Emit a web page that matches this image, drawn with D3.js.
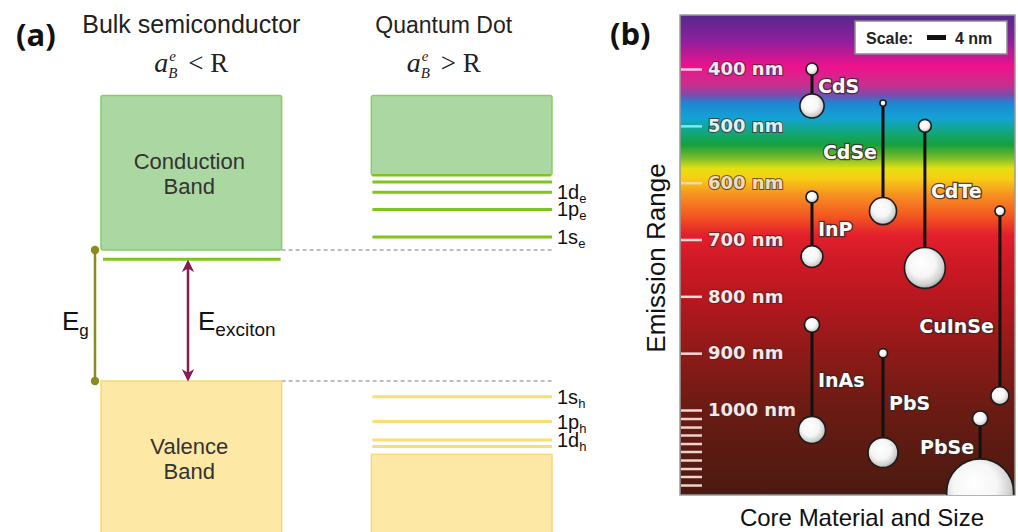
<!DOCTYPE html>
<html>
<head>
<meta charset="utf-8">
<script src="https://cdn.jsdelivr.net/npm/d3@7"></script>
<style>
  body { margin: 0; background: #fff; }
  svg { display: block; font-family: "Liberation Sans", Arial, sans-serif; }
</style>
</head>
<body>
<div id="plot"></div>
<script>
// ---- panel (a): energy levels, arbitrary units (valence edge = 0, bulk gap = 1)
const columns = ["bulk", "qd"];
const columnTitles = ["Bulk semiconductor", "Quantum Dot"];
const conductionBands = [[1.0, 2.18], [1.57, 2.18]];
const valenceBands = [[-1.16, 0], [-1.16, -0.56]];
const bulkExciton = 0.93;
const electronLevels = [1.52, 1.44, 1.31, 1.10];
const electronLabels = ["", "1d", "1p", "1s"];
const holeLevels = [-0.12, -0.31, -0.45, -0.50];
const holeLabels = ["1s", "1p", "1d", ""];

// ---- panel (b): emission range vs core material and size
const wlTicks = [400, 500, 600, 700, 800, 900, 1000];
const wlTickColors = ["#f6cfe6", "#7fe9f6", "#f7d6a8", "#f6d9d9", "#f6d9d9", "#f6d9d9", "#f6d9d9"];
const wlLabelColors = ["#f3e6f0", "#d9f1f4", "#eedcc0", "#f7e6e6", "#f7e6e6", "#f7e6e6", "#f7e6e6"];
const wlMinor = [1000, 1015, 1030, 1044, 1059, 1073, 1088, 1103, 1117, 1132];
const spectrumNm = [305, 350, 395, 428, 446, 460, 486, 516, 534, 557, 575, 592, 622, 657, 692, 736, 800, 900, 1000, 1150];
const spectrumColors = ["#552a8c", "#8e1f9e", "#ee118c", "#c8308e", "#7a4cae", "#1f86d2", "#13a3d6", "#12a66e",
  "#17a03c", "#7cbc2a", "#e4e012", "#f7cf14", "#f69022", "#f45a20", "#e31f2c", "#cf1a26", "#b9171f",
  "#8e1a18", "#6a1b13", "#4a1a10"];

const materials = ["CdS", "CdSe", "CdTe", "InP", "CuInSe", "InAs", "PbS", "PbSe"];
const lane = [39.4, 60.6, 73.1, 39.4, 95.5, 39.4, 60.6, 89.6];      // column, 0-100 across the panel
const emitFrom = [400, 460, 500, 625, 650, 850, 900, 1015];         // nm
const emitTo = [465, 650, 750, 730, 975, 1035, 1075, 1145];         // nm
const sizeFrom = [2.5, 1.3, 2.7, 2.5, 2.1, 3.2, 1.9, 3.2];          // core diameter, nm
const sizeTo = [5.1, 5.7, 8.6, 4.6, 3.8, 5.7, 6.3, 14.1];           // core diameter, nm
const labelNm = [430, 546, 615, 681, 852, 947, 988, 1065];
const labelSide = ["right", "left", "right", "right", "left", "right", "right", "left"];

const width = 1018, height = 532;

const svg = d3.select("#plot").append("svg")
  .attr("width", width)
  .attr("height", height)
  .attr("viewBox", [0, 0, width, height]);

const defs = svg.append("defs");

// =================== panel (a) ===================
const xBand = d3.scaleBand().domain(columns).range([101, 552]).paddingInner(0.332);
const yE = d3.scaleLinear().domain([0, 1]).range([381, 250]);

const green = "#80c41e", greenFill = "#abd7a2", greenEdge = "#8ccb66";
const yellow = "#f9de76", yellowFill = "#fde9a5", yellowEdge = "#f6d77a";

svg.append("text").attr("x", 16).attr("y", 46)
  .attr("font-family", "'Open Sans', sans-serif").attr("font-weight", 700)
  .attr("font-size", 31).attr("fill", "#111").text("(a)");

const titleX = [xBand("bulk") + xBand.bandwidth() / 2, xBand("qd") + xBand.bandwidth() / 2 - 18];
const titleSize = [25, 23];
svg.selectAll(".coltitle").data(columnTitles).join("text")
  .attr("class", "coltitle")
  .attr("x", (d, i) => titleX[i]).attr("y", 33)
  .attr("text-anchor", "middle").attr("font-size", (d, i) => titleSize[i]).attr("fill", "#222")
  .text(d => d);

// a_B^e < R  /  a_B^e > R
["<", ">"].forEach((op, i) => {
  const g = svg.append("g").attr("transform", `translate(${titleX[i] - 37},72)`)
    .attr("font-family", "'Liberation Serif', serif").attr("fill", "#222");
  g.append("text").attr("font-size", 28).attr("font-style", "italic").text("a");
  g.append("text").attr("x", 15).attr("y", -11).attr("font-size", 15).attr("font-style", "italic").text("e");
  g.append("text").attr("x", 14).attr("y", 6).attr("font-size", 15).attr("font-style", "italic").text("B");
  g.append("text").attr("x", 34).attr("font-size", 27).text(op + " R");
});

// dashed reference lines at the bulk band edges
svg.selectAll(".edge").data([1, 0]).join("line")
  .attr("x1", xBand("bulk") + xBand.bandwidth()).attr("x2", xBand("qd") + xBand.bandwidth() + 1)
  .attr("y1", d => yE(d)).attr("y2", d => yE(d))
  .attr("stroke", "#a8a8a8").attr("stroke-width", 1.5).attr("stroke-dasharray", "4,3");

// band rectangles
svg.selectAll(".cb").data(conductionBands).join("rect")
  .attr("x", (d, i) => xBand(columns[i])).attr("width", xBand.bandwidth())
  .attr("y", d => yE(d[1])).attr("height", d => yE(d[0]) - yE(d[1]))
  .attr("rx", 2)
  .attr("fill", greenFill).attr("stroke", greenEdge).attr("stroke-width", 1.5);

svg.selectAll(".vb").data(valenceBands).join("rect")
  .attr("x", (d, i) => xBand(columns[i])).attr("width", xBand.bandwidth())
  .attr("y", d => yE(d[1])).attr("height", d => yE(d[0]) - yE(d[1]))
  .attr("fill", yellowFill).attr("stroke", yellowEdge).attr("stroke-width", 1.5);

// bottom edge of QD conduction band
svg.append("line")
  .attr("x1", xBand("qd") + 1).attr("x2", xBand("qd") + xBand.bandwidth() - 1)
  .attr("y1", yE(conductionBands[1][0])).attr("y2", yE(conductionBands[1][0]))
  .attr("stroke", green).attr("stroke-width", 2.5);

// bulk exciton level
svg.append("line")
  .attr("x1", xBand("bulk") + 2).attr("x2", xBand("bulk") + xBand.bandwidth() - 1)
  .attr("y1", yE(bulkExciton)).attr("y2", yE(bulkExciton))
  .attr("stroke", green).attr("stroke-width", 3);

// band labels
const bandText = [["Conduction", "Band"], ["Valence", "Band"]];
const bandTextY = [yE(1.62), yE(-0.56)];
bandText.forEach((lines, k) => {
  svg.append("text")
    .attr("x", xBand("bulk") + xBand.bandwidth() / 2 - 2).attr("y", bandTextY[k])
    .attr("text-anchor", "middle").attr("font-size", 22).attr("fill", "#333")
    .selectAll("tspan").data(lines).join("tspan")
    .attr("x", xBand("bulk") + xBand.bandwidth() / 2 - 2)
    .attr("dy", (d, i) => i ? 25 : 0).text(d => d);
});

// QD discrete levels
const qx0 = xBand("qd") + 1, qx1 = xBand("qd") + xBand.bandwidth();
function levels(vals, labels, col, sub) {
  svg.append("g").selectAll("line").data(vals).join("line")
    .attr("x1", qx0).attr("x2", qx1)
    .attr("y1", d => yE(d)).attr("y2", d => yE(d))
    .attr("stroke", col).attr("stroke-width", 3);
  const t = svg.append("g").selectAll("text").data(vals.filter((d, i) => labels[i]))
    .join("text")
    .attr("x", qx1 + 5).attr("y", d => yE(d) + 7)
    .attr("font-size", 20).attr("fill", "#111");
  t.append("tspan").text((d) => labels[vals.indexOf(d)]);
  t.append("tspan").attr("font-size", 13).attr("dy", 4).text(sub);
}
levels(electronLevels, electronLabels, green, "e");
levels(holeLevels, holeLabels, yellow, "h");

// band gap marker
const egX = xBand("bulk") - 6;
svg.append("line").attr("x1", egX).attr("x2", egX)
  .attr("y1", yE(1)).attr("y2", yE(0))
  .attr("stroke", "#8c8a1e").attr("stroke-width", 2.5);
svg.selectAll(".egdot").data([1, 0]).join("circle")
  .attr("cx", egX).attr("cy", d => yE(d)).attr("r", 4.2).attr("fill", "#8c8a1e");
const eg = svg.append("text").attr("x", 62).attr("y", 330).attr("font-size", 26).attr("fill", "#111");
eg.append("tspan").text("E");
eg.append("tspan").attr("font-size", 17).attr("dy", 6).text("g");

// exciton arrow
defs.append("marker").attr("id", "ahead")
  .attr("viewBox", "0 0 10 10").attr("refX", 8).attr("refY", 5)
  .attr("markerWidth", 5).attr("markerHeight", 5).attr("orient", "auto-start-reverse")
  .append("path").attr("d", "M0,0 L10,5 L0,10 L3,5 Z").attr("fill", "#8a1a52");
const exX = 188;
svg.append("line").attr("x1", exX).attr("x2", exX)
  .attr("y1", yE(bulkExciton) + 3).attr("y2", yE(0) - 2)
  .attr("stroke", "#8a1a52").attr("stroke-width", 2.5)
  .attr("marker-start", "url(#ahead)").attr("marker-end", "url(#ahead)");
const ex = svg.append("text").attr("x", 198).attr("y", 330).attr("font-size", 26).attr("fill", "#111");
ex.append("tspan").text("E");
ex.append("tspan").attr("font-size", 19).attr("dy", 6).text("exciton");

// =================== panel (b) ===================
const px0 = 680, px1 = 1015, py0 = 15, py1 = 495;
const wl = d3.scaleLinear().domain([400, 1000]).range([69, 410]);
const xLane = d3.scaleLinear().domain([0, 100]).range([px0, px1]);
const sizeScale = d3.scaleLinear().domain([0, 4]).range([0, 19]);   // 4 nm -> 19 px

svg.append("text").attr("x", 610).attr("y", 45)
  .attr("font-family", "'Open Sans', sans-serif").attr("font-weight", 700)
  .attr("font-size", 31).attr("fill", "#111").text("(b)");

const spec = defs.append("linearGradient").attr("id", "spec")
  .attr("gradientUnits", "userSpaceOnUse")
  .attr("x1", 0).attr("x2", 0).attr("y1", wl(spectrumNm[0])).attr("y2", wl(spectrumNm[spectrumNm.length - 1]));
const off = d3.scaleLinear().domain([spectrumNm[0], spectrumNm[spectrumNm.length - 1]]).range([0, 1]);
spec.selectAll("stop").data(spectrumNm).join("stop")
  .attr("offset", d => off(d)).attr("stop-color", (d, i) => spectrumColors[i]);

defs.append("clipPath").attr("id", "panelclip")
  .append("rect").attr("x", px0).attr("y", py0).attr("width", px1 - px0).attr("height", py1 - py0);

const ball = defs.append("radialGradient").attr("id", "ball")
  .attr("cx", "45%").attr("cy", "42%").attr("r", "60%").attr("fx", "40%").attr("fy", "35%");
ball.append("stop").attr("offset", 0).attr("stop-color", "#ffffff");
ball.append("stop").attr("offset", 0.55).attr("stop-color", "#f6f6f6");
ball.append("stop").attr("offset", 0.85).attr("stop-color", "#cfcfcf");
ball.append("stop").attr("offset", 1).attr("stop-color", "#9a9a9a");

svg.append("rect").attr("x", px0).attr("y", py0).attr("width", px1 - px0).attr("height", py1 - py0)
  .attr("fill", "url(#spec)").attr("stroke", "#9a9a9a").attr("stroke-width", 1.5);

// wavelength axis drawn inside the panel
svg.append("g").attr("transform", `translate(${px0 + 1},0)`)
  .call(d3.axisRight(wl).tickValues(wlMinor.slice(1)).tickSize(21).tickFormat(""))
  .call(g => g.select(".domain").remove())
  .call(g => g.selectAll(".tick line").attr("stroke", "#efd2cc").attr("stroke-width", 2.5));

svg.append("g").attr("transform", `translate(${px0 + 1},0)`)
  .call(d3.axisRight(wl).tickValues(wlTicks).tickSize(21).tickPadding(6).tickFormat(d => d + " nm"))
  .call(g => g.select(".domain").remove())
  .call(g => g.selectAll(".tick line")
    .attr("stroke", (d, i) => wlTickColors[i]).attr("stroke-width", 2.5))
  .call(g => g.selectAll(".tick text")
    .attr("font-family", "'DejaVu Sans', sans-serif").attr("font-weight", 700).attr("font-size", 18)
    .attr("fill", (d, i) => wlLabelColors[i])
    .attr("stroke", "rgba(70,40,40,0.75)").attr("stroke-width", 2).attr("paint-order", "stroke"));

// scale box
const sb = svg.append("g");
sb.append("rect").attr("x", 855).attr("y", 21).attr("width", 152).attr("height", 33)
  .attr("fill", "#fff").attr("stroke", "#8a8a8a").attr("stroke-width", 1.5);
sb.append("text").attr("x", 866).attr("y", 44).attr("font-weight", 700).attr("font-size", 16)
  .attr("fill", "#222").text("Scale:");
sb.append("rect").attr("x", 927).attr("y", 35).attr("width", sizeScale(4)).attr("height", 5).attr("fill", "#111");
sb.append("text").attr("x", 955).attr("y", 44).attr("font-weight", 700).attr("font-size", 16)
  .attr("fill", "#222").text("4 nm");

// material stems and dots
const mats = materials.map((m, i) => ({
  name: m, x: xLane(lane[i]), y0: wl(emitFrom[i]), y1: wl(emitTo[i]),
  r0: sizeScale(sizeFrom[i]) / 2, r1: sizeScale(sizeTo[i]) / 2,
  ly: wl(labelNm[i]), side: labelSide[i]
}));

const mg = svg.append("g").attr("clip-path", "url(#panelclip)");
mg.selectAll(".stem").data(mats).join("line")
  .attr("x1", d => d.x).attr("x2", d => d.x).attr("y1", d => d.y0).attr("y2", d => d.y1)
  .attr("stroke", "#111").attr("stroke-width", 3);
mg.selectAll(".dot").data(mats.flatMap(d => [[d.x, d.y0, d.r0], [d.x, d.y1, d.r1]])).join("circle")
  .attr("cx", d => d[0]).attr("cy", d => d[1]).attr("r", d => d[2])
  .attr("fill", "url(#ball)").attr("stroke", "#1c1c1c").attr("stroke-width", 1.6);

mg.selectAll(".mlabel").data(mats).join("text")
  .attr("x", d => d.side === "right" ? d.x + 6 : d.x - 6)
  .attr("y", d => d.ly).attr("dy", "0.36em")
  .attr("text-anchor", d => d.side === "right" ? "start" : "end")
  .attr("font-family", "'DejaVu Sans', sans-serif").attr("font-weight", 700).attr("font-size", 19)
  .attr("fill", "#fafafa").attr("stroke", "rgba(50,40,40,0.8)").attr("stroke-width", 2.5)
  .attr("paint-order", "stroke")
  .text(d => d.name);

// axis titles
svg.append("text").attr("transform", "translate(665,258) rotate(-90)")
  .attr("text-anchor", "middle").attr("font-size", 26).attr("fill", "#111").text("Emission Range");
svg.append("text").attr("x", 862).attr("y", 526)
  .attr("text-anchor", "middle").attr("font-size", 24).attr("fill", "#111").text("Core Material and Size");
</script>
</body>
</html>
